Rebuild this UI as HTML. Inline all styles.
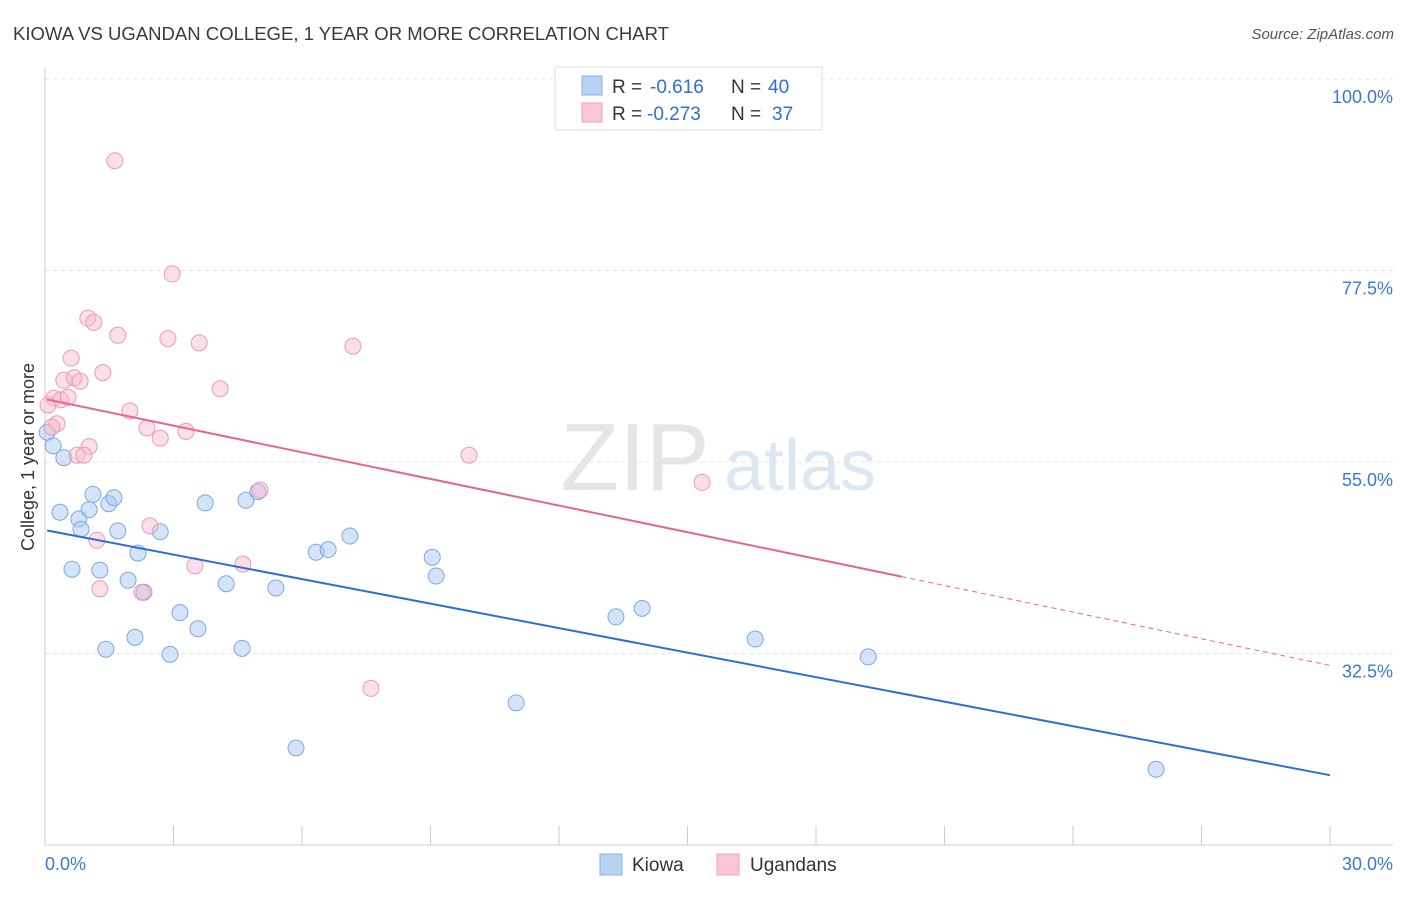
<!DOCTYPE html>
<html><head><meta charset="utf-8"><style>
body{margin:0;background:#fff;font-family:"Liberation Sans",sans-serif;}
svg text{font-family:"Liberation Sans",sans-serif;}
</style></head><body>
<svg id="chart" width="1406" height="892" xmlns="http://www.w3.org/2000/svg">
<text x="13" y="40" font-size="18" fill="#3a3a3a" textLength="656" lengthAdjust="spacingAndGlyphs">KIOWA VS UGANDAN COLLEGE, 1 YEAR OR MORE CORRELATION CHART</text>
<text x="1394" y="39" font-size="15" fill="#555" text-anchor="end" font-style="italic">Source: ZipAtlas.com</text>
<g opacity="0.3">
<text x="635" y="490" font-size="96" fill="#aaa" text-anchor="middle" font-family="Liberation Serif">ZIP</text>
<text x="800" y="490" font-size="72" fill="#8fb1dd" text-anchor="middle">atlas</text>
</g>
<g id="grid"></g>
<g id="axes"></g>
<g id="marks"></g>
<text transform="translate(34,457) rotate(-90)" font-size="18" fill="#333" text-anchor="middle">College, 1 year or more</text>
<g>
<rect x="555" y="67" width="267" height="63" fill="#fff" stroke="#ddd"/>
<rect x="582" y="76" width="20" height="19" fill="#b8d2f3" stroke="#8ab0e0"/>
<text x="612" y="93" font-size="19" fill="#333">R =</text>
<text x="650" y="93" font-size="19" fill="#2c6fd6">-0.616</text>
<text x="731" y="93" font-size="19" fill="#333">N =</text>
<text x="768" y="93" font-size="19" fill="#2c6fd6">40</text>
<rect x="582" y="103" width="20" height="19" fill="#f9c6d6" stroke="#eea0b8"/>
<text x="612" y="120" font-size="19" fill="#333">R =</text>
<text x="647" y="120" font-size="19" fill="#2c6fd6">-0.273</text>
<text x="731" y="120" font-size="19" fill="#333">N =</text>
<text x="772" y="120" font-size="19" fill="#2c6fd6">37</text>
</g>
<g>
<rect x="600" y="854" width="22" height="21" fill="#b8d2f3" stroke="#8ab0e0"/>
<text x="632" y="871" font-size="19" fill="#333">Kiowa</text>
<rect x="717" y="854" width="22" height="21" fill="#f9c6d6" stroke="#eea0b8"/>
<text x="750" y="871" font-size="19" fill="#333">Ugandans</text>
</g>
</svg>
<script>
const kiowaX=[0.05,0.19,0.44,0.35,0.63,0.79,0.84,1.03,1.12,1.28,1.42,1.49,1.61,1.70,1.94,2.10,2.17,2.31,2.69,2.92,3.15,3.57,3.74,4.23,4.60,4.69,4.97,5.39,5.86,6.33,6.61,7.12,9.04,9.13,11.0,13.33,13.94,16.58,19.22,25.94];
const kiowaY=[58.5,56.9,55.5,49.1,42.4,48.3,47.1,49.4,51.2,42.3,33.0,50.1,50.8,46.9,41.1,34.4,44.3,39.7,46.8,32.4,37.3,35.4,50.2,40.7,33.1,50.5,51.5,40.2,21.4,44.4,44.7,46.3,43.8,41.6,26.7,36.8,37.8,34.2,32.1,18.9];
const ugX=[1.63,2.97,1.00,1.14,1.70,2.87,3.60,7.19,0.61,1.35,0.44,0.68,0.82,4.09,0.21,0.37,0.54,0.07,1.98,0.28,0.16,2.38,3.29,2.69,1.03,0.75,0.91,9.90,15.34,5.02,2.45,1.21,3.50,4.62,1.28,2.26,7.61];
const ugY=[90.4,77.1,71.9,71.4,69.9,69.5,69.0,68.6,67.2,65.5,64.6,64.9,64.5,63.6,62.5,62.3,62.6,61.7,61.0,59.5,59.1,59.0,58.6,57.8,56.8,55.8,55.8,55.8,52.6,51.7,47.5,45.8,42.8,43.0,40.1,39.7,28.4];
const kiowaTrend=[47.0,18.2];
const ugTrend=[62.4,31.1];
const ugSolidEnd=20;
const yTicks=[100,77.5,55,32.5];
const yTickLabels=["100.0%","77.5%","55.0%","32.5%"];
const xTickCount=10;

const NS="http://www.w3.org/2000/svg";
const X0=45,X1=1330,YT=79,PXPER=8.511;
const sx=v=>X0+(X1-X0)*v/30;
const sy=v=>YT+(100-v)*PXPER;
function mk(tag,attrs,parent){const e=document.createElementNS(NS,tag);for(const k in attrs)e.setAttribute(k,attrs[k]);document.getElementById(parent).appendChild(e);return e;}

yTicks.forEach((t,i)=>{
 const g=mk('line',{x1:45,x2:1393,y1:sy(t),y2:sy(t),stroke:'#e3e3e3','stroke-dasharray':'4,4'},'grid');
 
 
 const l=mk('text',{x:1393,y:sy(t)+24,'font-size':18,fill:'#3a78d6','text-anchor':'end'},'axes');
 l.textContent=yTickLabels[i];
 
 
});
const ax=mk('line',{x1:45,x2:45,y1:68,y2:845,stroke:'#ccc'},'axes');


const bx=mk('line',{x1:45,x2:1393,y1:845,y2:845,stroke:'#ccc'},'axes');


for(let i=1;i<=xTickCount;i++){
 const t=mk('line',{x1:sx(i*3),x2:sx(i*3),y1:826,y2:845,stroke:'#ccc'},'axes');
 
 
}
const xl0=mk('text',{x:45,y:870,'font-size':18,fill:'#3a78d6'},'axes');xl0.textContent='0.0%';


const xl1=mk('text',{x:1393,y:870,'font-size':18,fill:'#3a78d6','text-anchor':'end'},'axes');xl1.textContent='30.0%';



kiowaX.forEach((x,i)=>{
 const c=mk('circle',{cx:sx(x),cy:sy(kiowaY[i]),r:8,fill:'rgba(160,195,240,0.45)',stroke:'#7fa8e0','stroke-width':1},'marks');
 
 
});
ugX.forEach((x,i)=>{
 const c=mk('circle',{cx:sx(x),cy:sy(ugY[i]),r:8,fill:'rgba(248,185,205,0.45)',stroke:'#eb9ab5','stroke-width':1},'marks');
 
 
});
const kl=mk('line',{x1:sx(0.05),y1:sy(kiowaTrend[0]+(kiowaTrend[1]-kiowaTrend[0])*0.05/30),x2:sx(30),y2:sy(kiowaTrend[1]),stroke:'#2a6fd8','stroke-width':2},'marks');


const ugAt=x=>ugTrend[0]+(ugTrend[1]-ugTrend[0])*x/30;
const ul=mk('line',{x1:sx(0.05),y1:sy(ugAt(0.05)),x2:sx(ugSolidEnd),y2:sy(ugAt(ugSolidEnd)),stroke:'#e8648f','stroke-width':2},'marks');


const ud=mk('line',{x1:sx(ugSolidEnd),y1:sy(ugAt(ugSolidEnd)),x2:sx(30),y2:sy(ugTrend[1]),stroke:'#e8648f','stroke-width':1,'stroke-dasharray':'5,4'},'marks');


</script>
</body></html>
